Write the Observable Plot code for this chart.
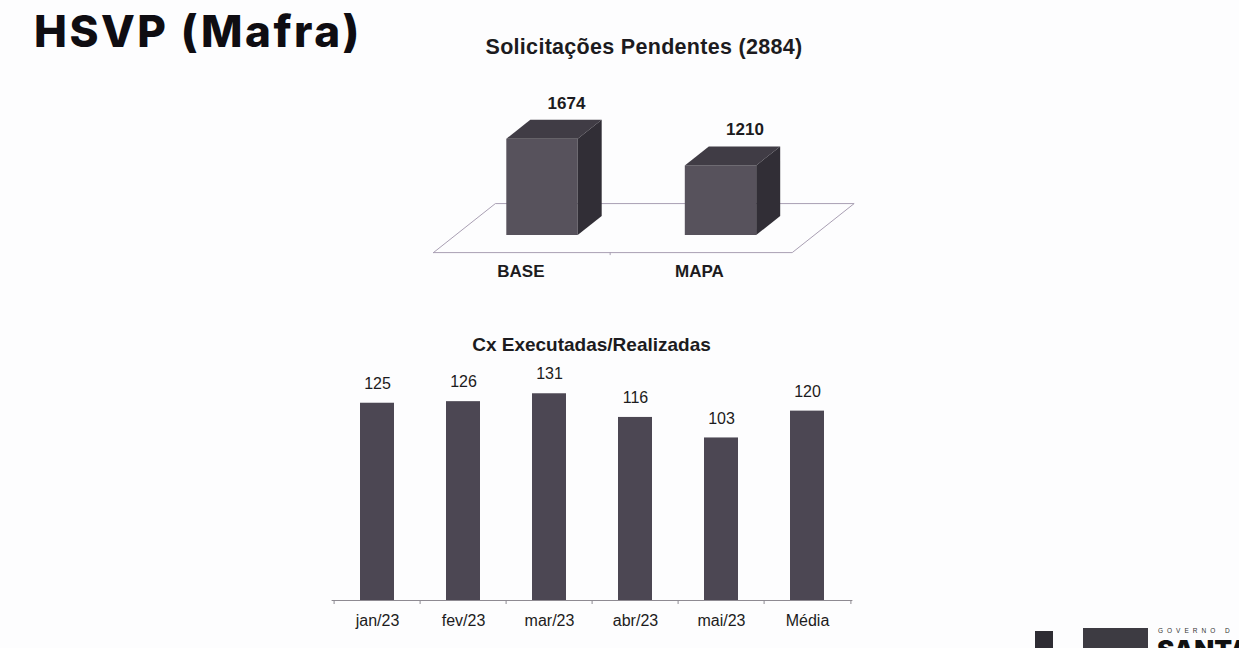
<!DOCTYPE html>
<html><head><meta charset="utf-8">
<script src="https://cdn.jsdelivr.net/npm/d3@7"></script>
<script src="https://cdn.jsdelivr.net/npm/@observablehq/plot@0.6"></script>
<style>
html,body{margin:0;padding:0;background:#fff;}
#page{position:relative;width:1239px;height:648px;overflow:hidden;background:#fdfdfe;font-family:"Liberation Sans",Arial,sans-serif;color:#1c1b20;}
.abs{position:absolute;white-space:nowrap;line-height:1;}
#title{left:34px;top:9px;font-family:Inter,"Open Sans",sans-serif;font-weight:800;font-size:44px;letter-spacing:2.5px;color:#0f0d12;}
.ctitle{font-weight:bold;transform:translateX(-50%);}
#t1{left:644px;top:37px;font-size:21.5px;letter-spacing:0.3px;}
#t2{left:591.5px;top:334.5px;font-size:19px;}
#chart1{left:400px;top:70px;}
#chart2{left:300px;top:330px;}
#logo-sq{left:1035px;top:631px;width:18px;height:20px;background:#2e2c33;}
#logo-bn{left:1083px;top:628px;width:65px;height:20px;background:#3d3b42;}
#logo-g{left:1158px;top:628px;font-size:6.5px;letter-spacing:4px;color:#333;}
#logo-s{left:1157px;top:637px;font-family:Inter,sans-serif;font-weight:900;font-size:26px;color:#111;}
</style></head>
<body><div id="page">
<div id="title" class="abs">HSVP (Mafra)</div>
<div id="t1" class="abs ctitle"></div>
<div id="t2" class="abs ctitle"></div>
<div id="chart1" class="abs"></div>
<div id="chart2" class="abs"></div>
<div id="logo-sq" class="abs"></div>
<div id="logo-bn" class="abs"></div>
<div id="logo-g" class="abs">GOVERNO D</div>
<div id="logo-s" class="abs">SANTA</div>
</div>
<script>
// ---- data ----
const pendTitle = "Solicitações Pendentes (2884)";
const pendCategories = ["BASE", "MAPA"];
const pendValues = [1674, 1210];

const cxTitle = "Cx Executadas/Realizadas";
const cxMonths = ["jan/23", "fev/23", "mar/23", "abr/23", "mai/23", "Média"];
const cxValues = [125, 126, 131, 116, 103, 120];

document.getElementById("t1").textContent = pendTitle;
document.getElementById("t2").textContent = cxTitle;

const font = "'Liberation Sans', Arial, sans-serif";
const ink = "#1c1b20";

// ---- top chart: 3D boxes ----
{
  const W = 470, H = 230;
  const xStep = 178.5, x0 = 142;      // layout of category centres
  const yBase = 165, pxPerUnit = 0.0575;
  const DX = 24 / xStep, DY = 19 / pxPerUnit; // box depth in data units
  const HW = 0.2;                        // half box width (category units)
  const zFront = -0.9, zBack = 1.68, uL = -0.49, uR = 1.52; // floor extent
  const bars = pendCategories.map((c, i) => ({c, u: i, v: pendValues[i]}));
  const topFaces = bars.flatMap(b => [
    {k: b.c, X: b.u - HW, Y1: b.v, Y2: b.v},
    {k: b.c, X: b.u - HW + DX, Y1: b.v, Y2: b.v + DY},
    {k: b.c, X: b.u + HW, Y1: b.v, Y2: b.v + DY},
    {k: b.c, X: b.u + HW + DX, Y1: b.v + DY, Y2: b.v + DY}
  ]);
  const sideFaces = bars.flatMap(b => [
    {k: b.c, X: b.u + HW, Y1: 0, Y2: b.v},
    {k: b.c, X: b.u + HW + DX, Y1: DY, Y2: b.v + DY}
  ]);
  const P = (u, z) => ({X: u + z * DX, Y: z * DY});
  const floor = [P(uL, zFront), P(uR, zFront), P(uR, zBack), P(uL, zBack), P(uL, zFront)];
  const chart = Plot.plot({
    width: W, height: H, margin: 0,
    style: {fontFamily: font, color: ink, background: "transparent", overflow: "visible"},
    x: {type: "linear", domain: [0, 1], range: [x0, x0 + xStep], axis: null},
    y: {type: "linear", domain: [0, 1000], range: [yBase, yBase - 1000 * pxPerUnit], axis: null},
    marks: [
      Plot.line(floor, {x: "X", y: "Y", stroke: "#a99fb3", strokeWidth: 1}),
      Plot.ruleX([0.5], {x: d => d + zFront * DX, y1: () => zFront * DY, y2: () => zFront * DY - 3 / pxPerUnit, stroke: "#a99fb3"}),
      Plot.rect(bars, {x1: d => d.u - HW, x2: d => d.u + HW, y1: () => 0, y2: "v", fill: "#57525c"}),
      Plot.area(topFaces, {x1: "X", y1: "Y1", y2: "Y2", z: "k", fill: "#403c45", curve: "linear"}),
      Plot.area(sideFaces, {x1: "X", y1: "Y1", y2: "Y2", z: "k", fill: "#312e36", curve: "linear"}),
      Plot.text(bars, {x: d => d.u + DX, y: d => d.v + DY, text: d => String(d.v), dy: -17, fontSize: 17, fontWeight: "bold", fill: ink}),
      Plot.text(bars, {x: d => d.u + zFront * DX, y: () => zFront * DY, text: "c", dy: 19, fontSize: 17, fontWeight: "bold", fill: ink})
    ]
  });
  document.getElementById("chart1").appendChild(chart);
}

// ---- bottom chart: bars ----
{
  const W = 590, H = 318;
  const ml = 31.6, mr = 37.6, mb = 48, mt = 17.5;
  const step = (W - ml - mr) / cxMonths.length;
  const data = cxMonths.map((m, i) => ({m, v: cxValues[i]}));
  const pxPerUnit = (H - mt - mb) / 160;
  const chart = Plot.plot({
    width: W, height: H,
    marginLeft: ml, marginRight: mr, marginTop: mt, marginBottom: mb,
    style: {fontFamily: font, fontSize: "16px", color: ink, background: "transparent", overflow: "visible"},
    x: {type: "band", domain: cxMonths, paddingInner: 0.6, paddingOuter: 0.3, axis: null},
    y: {domain: [0, 160], axis: null},
    marks: [
      Plot.barY(data, {x: "m", y: "v", fill: "#4c4753"}),
      Plot.ruleY([0], {stroke: "#8e8a92", strokeWidth: 1.2}),
      Plot.ruleX(cxMonths, {x: d => d, y1: () => 0, y2: () => -4 / pxPerUnit, dx: -step / 2, stroke: "#8e8a92"}),
      Plot.ruleX(cxMonths.slice(-1), {x: d => d, y1: () => 0, y2: () => -4 / pxPerUnit, dx: step / 2, stroke: "#8e8a92"}),
      Plot.text(data, {x: "m", y: "v", text: d => String(d.v), dy: -19.5, fontSize: 16, fill: ink}),
      Plot.axisX({tickSize: 0, tickPadding: 14, fontSize: 16, label: null, fill: ink})
    ]
  });
  document.getElementById("chart2").appendChild(chart);
}
</script>
</body></html>
